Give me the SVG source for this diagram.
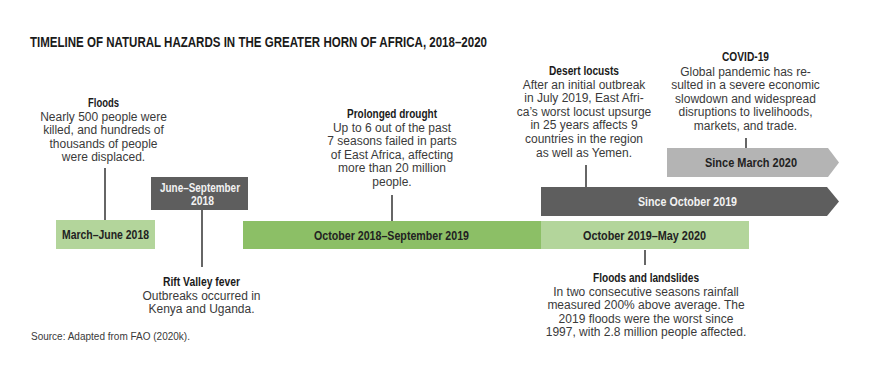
<svg xmlns="http://www.w3.org/2000/svg" width="870" height="387" viewBox="0 0 870 387">
<style>
.title{font-family:"Liberation Sans",Arial,sans-serif;font-weight:bold;font-size:14px;fill:#1a1a1a}
.lbl{font-family:"Liberation Sans",Arial,sans-serif;font-weight:bold;font-size:12px;text-anchor:middle}
.dark{fill:#222}
.light{fill:#f2f2f2}
.hd{font-family:"Liberation Sans",Arial,sans-serif;font-weight:bold;font-size:12px;text-anchor:middle;fill:#1a1a1a}
.body{font-family:"Liberation Sans",Arial,sans-serif;font-size:12px;text-anchor:middle;fill:#3a3a3a}
.src{font-family:"Liberation Sans",Arial,sans-serif;font-size:10px;fill:#3a3a3a}
.lg{fill:#b3d59b}
.mg{fill:#8cbf66}
.dg{fill:#5e5e5e}
.gg{fill:#b4b4b4}
.conn line{stroke:#333;stroke-width:1.5}
</style>
<rect width="870" height="387" fill="#ffffff"/>
<text class="title" x="30" y="47" textLength="457" lengthAdjust="spacingAndGlyphs">TIMELINE OF NATURAL HAZARDS IN THE GREATER HORN OF AFRICA, 2018–2020</text>

<g id="connectors" class="conn">
<line x1="105" y1="168" x2="105" y2="220"/>
<line x1="202" y1="210" x2="202" y2="267"/>
<line x1="392" y1="195" x2="392" y2="221"/>
<line x1="586" y1="165" x2="586" y2="187"/>
<line x1="746" y1="138" x2="746" y2="148"/>
<line x1="645" y1="250" x2="645" y2="265"/>
</g>

<g id="march-june-2018">
<rect class="lg" x="56" y="220" width="99" height="29"/>
<text class="lbl dark" x="105.5" y="238.5" textLength="87" lengthAdjust="spacingAndGlyphs">March–June 2018</text>
</g>

<g id="june-september-2018">
<rect class="dg" x="151" y="177" width="97" height="33"/>
<text class="lbl light" x="200" y="192" textLength="80" lengthAdjust="spacingAndGlyphs">June–September</text>
<text class="lbl light" x="202.5" y="205" textLength="23" lengthAdjust="spacingAndGlyphs">2018</text>
</g>

<g id="oct2018-sep2019">
<rect class="mg" x="243" y="221" width="298" height="28"/>
<text class="lbl dark" x="391.5" y="240" textLength="155" lengthAdjust="spacingAndGlyphs">October 2018–September 2019</text>
</g>

<g id="oct2019-may2020">
<rect class="lg" x="541" y="221" width="208" height="28"/>
<text class="lbl dark" x="644.5" y="239.5" textLength="123" lengthAdjust="spacingAndGlyphs">October 2019–May 2020</text>
</g>

<g id="since-october-2019">
<polygon class="dg" points="541,187 827,187 839,201.5 827,216 541,216"/>
<text class="lbl light" x="687.5" y="206" textLength="99" lengthAdjust="spacingAndGlyphs">Since October 2019</text>
</g>

<g id="since-march-2020">
<polygon class="gg" points="667,148 828,148 839,162.5 828,177 667,177"/>
<text class="lbl dark" x="751" y="167" textLength="92" lengthAdjust="spacingAndGlyphs">Since March 2020</text>
</g>

<g id="floods-2018">
<text class="hd" x="103.5" y="107" textLength="31" lengthAdjust="spacingAndGlyphs">Floods</text>
<text class="body" x="103.5" y="120.6">Nearly 500 people were</text>
<text class="body" x="103.5" y="134.2">killed, and hundreds of</text>
<text class="body" x="103.5" y="147.8">thousands of people</text>
<text class="body" x="103.5" y="161.4">were displaced.</text>
</g>

<g id="rift-valley-fever">
<text class="hd" x="201.5" y="286" textLength="77" lengthAdjust="spacingAndGlyphs">Rift Valley fever</text>
<text class="body" x="201.5" y="299.6">Outbreaks occurred in</text>
<text class="body" x="201.5" y="313.2">Kenya and Uganda.</text>
</g>

<g id="prolonged-drought">
<text class="hd" x="392" y="118" textLength="90" lengthAdjust="spacingAndGlyphs">Prolonged drought</text>
<text class="body" x="392" y="131.6">Up to 6 out of the past</text>
<text class="body" x="392" y="145.2">7 seasons failed in parts</text>
<text class="body" x="392" y="158.8">of East Africa, affecting</text>
<text class="body" x="392" y="172.4">more than 20 million</text>
<text class="body" x="392" y="186">people.</text>
</g>

<g id="desert-locusts">
<text class="hd" x="584" y="75" textLength="70" lengthAdjust="spacingAndGlyphs">Desert locusts</text>
<text class="body" x="584" y="88.6">After an initial outbreak</text>
<text class="body" x="584" y="102.2">in July 2019, East Afri-</text>
<text class="body" x="584" y="115.8">ca’s worst locust upsurge</text>
<text class="body" x="584" y="129.4">in 25 years affects 9</text>
<text class="body" x="584" y="143">countries in the region</text>
<text class="body" x="584" y="156.6">as well as Yemen.</text>
</g>

<g id="covid-19">
<text class="hd" x="745.5" y="61" textLength="47" lengthAdjust="spacingAndGlyphs">COVID-19</text>
<text class="body" x="745.5" y="75.6">Global pandemic has re-</text>
<text class="body" x="745.5" y="89.2">sulted in a severe economic</text>
<text class="body" x="745.5" y="102.8">slowdown and widespread</text>
<text class="body" x="745.5" y="116.4">disruptions to livelihoods,</text>
<text class="body" x="745.5" y="130">markets, and trade.</text>
</g>

<g id="floods-and-landslides">
<text class="hd" x="646" y="282" textLength="106" lengthAdjust="spacingAndGlyphs">Floods and landslides</text>
<text class="body" x="646" y="295.6">In two consecutive seasons rainfall</text>
<text class="body" x="646" y="309.2">measured 200% above average. The</text>
<text class="body" x="646" y="322.8">2019 floods were the worst since</text>
<text class="body" x="646" y="336.4">1997, with 2.8 million people affected.</text>
</g>

<text class="src" x="31" y="339.5">Source: Adapted from FAO (2020k).</text>
</svg>
